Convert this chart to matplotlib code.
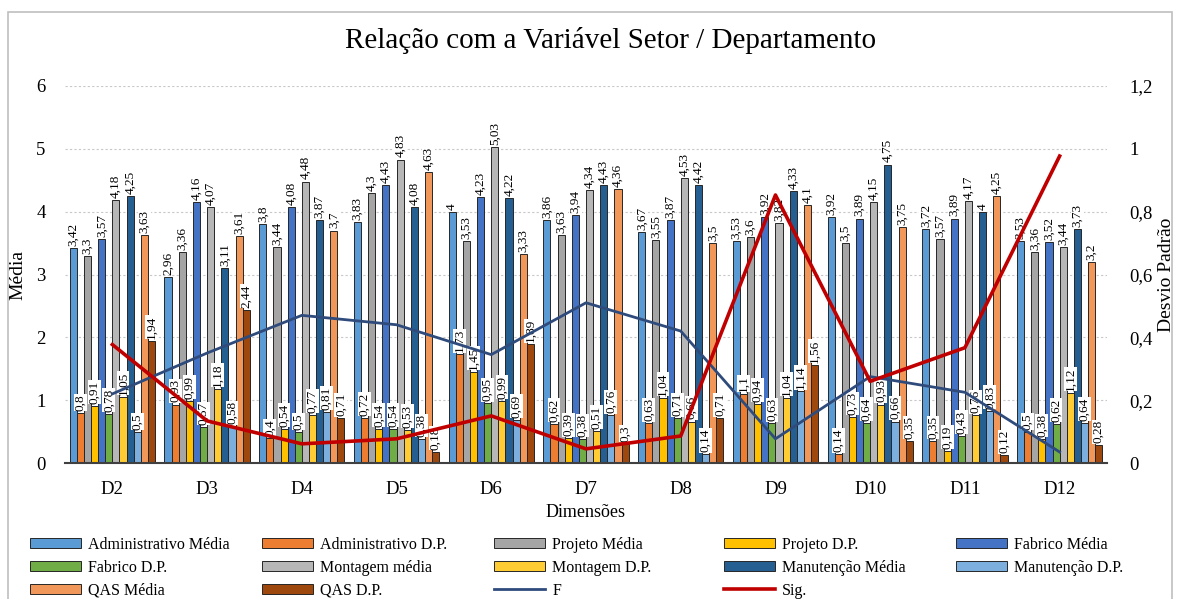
import numpy as np
import matplotlib
matplotlib.use("Agg")
import matplotlib.pyplot as plt
from matplotlib.patches import Patch, Rectangle
from matplotlib.lines import Line2D

plt.rcParams['font.family'] = ['Liberation Serif', 'DejaVu Serif']

# dados
dimensoes = ['D2', 'D3', 'D4', 'D5', 'D6', 'D7', 'D8', 'D9', 'D10', 'D11', 'D12']

series = ['Administrativo Média', 'Administrativo D.P.', 'Projeto Média', 'Projeto D.P.',
          'Fabrico Média', 'Fabrico D.P.', 'Montagem média', 'Montagem D.P.',
          'Manutenção Média', 'Manutenção D.P.', 'QAS Média', 'QAS D.P.']

adm_media = [3.42, 2.96, 3.8, 3.83, 4, 3.86, 3.67, 3.53, 3.92, 3.72, 3.53]
adm_dp = [0.8, 0.93, 0.4, 0.72, 1.73, 0.62, 0.63, 1.1, 0.14, 0.35, 0.5]
proj_media = [3.3, 3.36, 3.44, 4.3, 3.53, 3.63, 3.55, 3.6, 3.5, 3.57, 3.36]
proj_dp = [0.91, 0.99, 0.54, 0.54, 1.45, 0.39, 1.04, 0.94, 0.73, 0.19, 0.38]
fab_media = [3.57, 4.16, 4.08, 4.43, 4.23, 3.94, 3.87, 3.92, 3.89, 3.89, 3.52]
fab_dp = [0.78, 0.57, 0.5, 0.54, 0.95, 0.38, 0.71, 0.63, 0.64, 0.43, 0.62]
mont_media = [4.18, 4.07, 4.48, 4.83, 5.03, 4.34, 4.53, 3.82, 4.15, 4.17, 3.44]
mont_dp = [1.05, 1.18, 0.77, 0.53, 0.99, 0.51, 0.66, 1.04, 0.93, 0.76, 1.12]
man_media = [4.25, 3.11, 3.87, 4.08, 4.22, 4.43, 4.42, 4.33, 4.75, 4, 3.73]
man_dp = [0.5, 0.58, 0.81, 0.38, 0.69, 0.76, 0.14, 1.14, 0.66, 0.83, 0.64]
qas_media = [3.63, 3.61, 3.7, 4.63, 3.33, 4.36, 3.5, 4.1, 3.75, 4.25, 3.2]
qas_dp = [1.94, 2.44, 0.71, 0.18, 1.89, 0.3, 0.71, 1.56, 0.35, 0.12, 0.28]

F = [0.22, 0.35, 0.47, 0.44, 0.345, 0.51, 0.42, 0.077, 0.275, 0.225, 0.035]
sig = [0.377, 0.134, 0.061, 0.077, 0.15, 0.045, 0.086, 0.853, 0.26, 0.367, 0.977]

valores = [adm_media, adm_dp, proj_media, proj_dp, fab_media, fab_dp,
           mont_media, mont_dp, man_media, man_dp, qas_media, qas_dp]
cores = ['#5B9BD5', '#ED7D31', '#A5A5A5', '#FFC000', '#4472C4', '#70AD47',
         '#B7B7B7', '#FFCD33', '#255E91', '#7CAFDD', '#F1975A', '#9E480E']


def fmt(v):
    s = ('%g' % v).replace('.', ',')
    return s


fig = plt.figure(figsize=(11.77, 5.99), dpi=100)
fig.patches.append(Rectangle((8 / 1177, -0.1), 1164 / 1177, 1.1 - 12 / 599,
                             transform=fig.transFigure, fill=False,
                             edgecolor='#BFBFBF', linewidth=1.2))

ax = fig.add_axes([65 / 1177, 136 / 599, 1042 / 1177, 377 / 599])
x = np.arange(len(dimensoes))
n = len(series)
w = 0.9 / n

for j in range(n):
    pos = x + (j - (n - 1) / 2) * w
    ax.bar(pos, valores[j], width=w, color=cores[j], edgecolor='#262626',
           linewidth=0.7, zorder=2)
    for xi, v in zip(pos, valores[j]):
        ax.annotate(fmt(v), (xi, v), xytext=(0, 1.5), textcoords='offset points',
                    ha='center', va='bottom', rotation=90, fontsize=9.5,
                    bbox=dict(facecolor='white', edgecolor='none', pad=0.3),
                    zorder=5)

ax.set_xlim(-0.5, len(dimensoes) - 0.5)
ax.set_ylim(0, 6)
ax.set_yticks(range(7))
ax.set_xticks(x)
ax.set_xticklabels(dimensoes)
ax.yaxis.grid(True, linestyle=(0, (2, 2)), color='#C8C8C8', linewidth=0.8, zorder=0)
ax.set_axisbelow(True)
for s in ['top', 'left', 'right']:
    ax.spines[s].set_visible(False)
ax.spines['bottom'].set_color('#404040')
ax.spines['bottom'].set_linewidth(1.5)
ax.tick_params(axis='both', length=0, labelsize=13.5)
ax.tick_params(axis='x', pad=13)
ax.tick_params(axis='y', pad=14)
ax.set_ylabel('Média', fontsize=14)
ax.yaxis.set_label_coords(-0.0374, 0.5)
ax.set_xlabel('Dimensões', fontsize=13, labelpad=4)

ax2 = ax.twinx()
ax2.plot(x, F, color='#2F4B7C', linewidth=2, zorder=3)
ax2.plot(x, sig, color='#C00000', linewidth=2.6, zorder=3)
ax2.set_ylim(0, 1.2)
ax2.set_yticks([0, 0.2, 0.4, 0.6, 0.8, 1.0, 1.2])
ax2.set_yticklabels(['0', '0,2', '0,4', '0,6', '0,8', '1', '1,2'])
for s in ['top', 'left', 'right', 'bottom']:
    ax2.spines[s].set_visible(False)
ax2.tick_params(axis='y', length=0, labelsize=13.5, pad=16)
ax2.set_ylabel('Desvio Padrão', fontsize=14, rotation=90)
ax2.yaxis.set_label_coords(1.0485, 0.5)

fig.text(611 / 1177, 1 - 40 / 599, 'Relação com a Variável Setor / Departamento',
         ha='center', va='center', fontsize=21)

# legenda em 5 colunas
handles = [Patch(facecolor=cores[j], edgecolor='#262626', linewidth=0.7) for j in range(n)]
handles += [Line2D([], [], color='#2F4B7C', linewidth=2),
            Line2D([], [], color='#C00000', linewidth=2.6)]
labels = series + ['F', 'Sig.']
col_x = [30, 262, 494, 724, 956]
for c in range(5):
    idx = [i for i in range(c, len(labels), 5)]
    fig.legend([handles[i] for i in idx], [labels[i] for i in idx],
               loc='upper left', bbox_to_anchor=(col_x[c] / 1177, 1 - 537 / 599),
               frameon=False, fontsize=11.5, handlelength=3.2, handleheight=0.6,
               handletextpad=0.45, labelspacing=0.43, borderpad=0, borderaxespad=0)

fig.savefig('out.png', dpi=100)
